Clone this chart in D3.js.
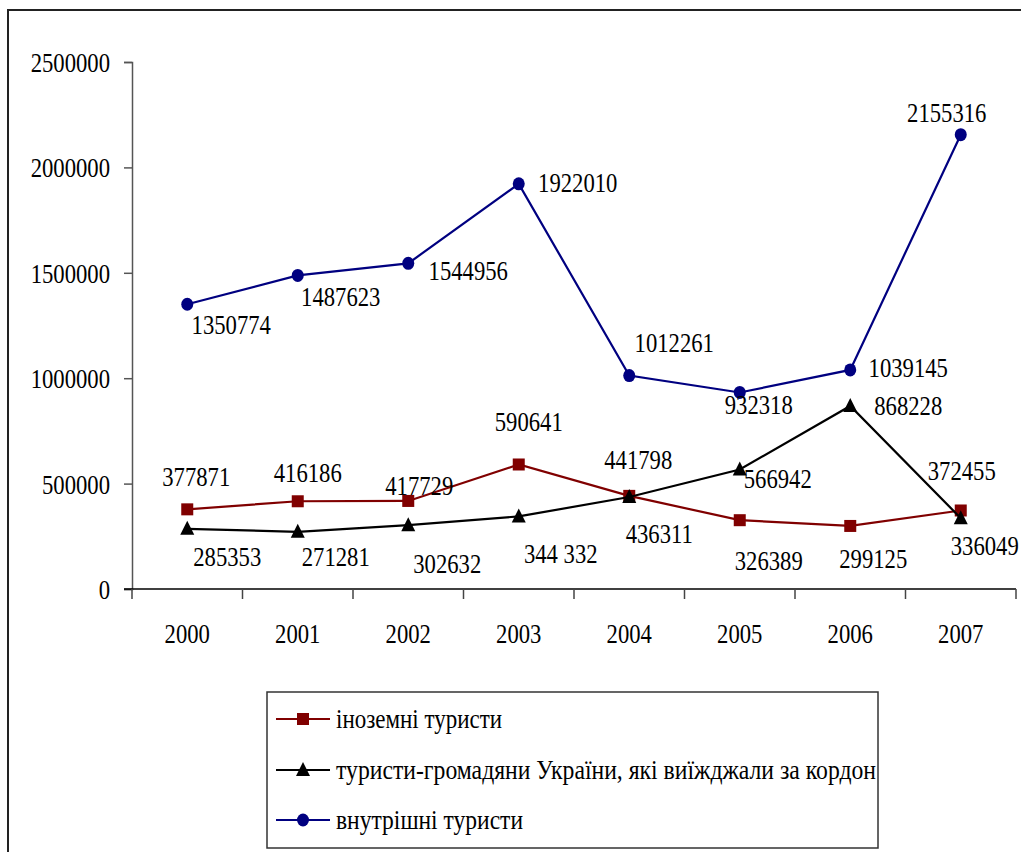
<!DOCTYPE html>
<html><head><meta charset="utf-8">
<script src="https://cdn.jsdelivr.net/npm/d3@7"></script>
<style>body{margin:0;background:#fff}svg{display:block}</style>
</head><body>
<svg id="c" width="1021" height="852"></svg>
<script>
const years = ["2000","2001","2002","2003","2004","2005","2006","2007"];
const foreignTourists = [377871, 416186, 417729, 590641, 441798, 326389, 299125, 372455];
const outboundTourists = [285353, 271281, 302632, 344332, 436311, 566942, 868228, 336049];
const domesticTourists = [1350774, 1487623, 1544956, 1922010, 1012261, 932318, 1039145, 2155316];
const foreignLabels = ["377871","416186","417729","590641","441798","326389","299125","372455"];
const outboundLabels = ["285353","271281","302632","344 332","436311","566942","868228","336049"];
const domesticLabels = ["1350774","1487623","1544956","1922010","1012261","932318","1039145","2155316"];
const yTicks = [0, 500000, 1000000, 1500000, 2000000, 2500000];
const seriesNames = ["іноземні туристи", "туристи-громадяни України, які виїжджали за кордон", "внутрішні туристи"];

// label offsets (pixels, relative to the point)
const foreignOff = [[9,-33],[10,-29],[11,-15],[10,-43],[9,-36],[29,40],[23,33],[1,-40]];
const outboundOff = [[40,28],[38,25],[39,38],[42,37],[30,37],[38,9],[58,0],[24,27]];
const domesticOff = [[44,20],[43,21],[60,7],[59,-1],[45,-33],[19,12],[58,-2],[-14,-22]];

const FONT = "'Times New Roman', 'Liberation Serif', Tinos, serif";
const FS = 27, SX = 0.84;
const svg = d3.select("#c");

svg.append("rect").attr("x",8).attr("y",10).attr("width",1030).attr("height",860)
  .attr("fill","none").attr("stroke","#222").attr("stroke-width",2);

const x = d3.scaleBand().domain(years).range([132,1016]);
const y = d3.scaleLinear().domain([0,2500000]).range([589,62]);
const cx = d => x(d) + x.bandwidth()/2;

function txt(g, s, px, py, anchor, sx){
  return g.append("text").attr("transform",`translate(${px},${py}) scale(${sx||SX},1)`)
    .attr("text-anchor",anchor||"middle").attr("dy","0.35em")
    .style("font-family",FONT).style("font-size",FS+"px").style("font-weight","normal").attr("fill","#000").text(s);
}

// y axis
const yAxis = svg.append("g").attr("transform","translate(132,0)")
  .call(d3.axisLeft(y).tickValues(yTicks).tickSize(8).tickPadding(14).tickFormat(d3.format("d")));
yAxis.select(".domain").attr("stroke","#555").attr("stroke-width",1.5);
yAxis.selectAll(".tick line").attr("stroke","#555").attr("stroke-width",1.5);
yAxis.selectAll(".tick text").each(function(){
  const t = d3.select(this); const xx = +t.attr("x");
  t.attr("x",0).attr("transform",`translate(${xx},0) scale(${SX},1)`)
   .style("font-family",FONT).style("font-size",FS+"px").attr("fill","#000").attr("dy","0.35em");
});

// x axis
const xg = svg.append("g");
xg.append("line").attr("x1",x.range()[0]-8).attr("x2",x.range()[1]).attr("y1",y(0)).attr("y2",y(0))
  .attr("stroke","#000").attr("stroke-width",1.5);
const bounds = years.map(d=>x(d)).concat([x.range()[1]]);
xg.selectAll(".bt").data(bounds).join("line").attr("class","bt")
  .attr("x1",d=>d).attr("x2",d=>d).attr("y1",y(0)).attr("y2",y(0)+10)
  .attr("stroke","#444").attr("stroke-width",1.5);
years.forEach(d=>txt(xg, d, cx(d), 634));

const line = d3.line().x((d,i)=>cx(years[i])).y(d=>y(d));

function drawSeries(vals, color, shape){
  const g = svg.append("g");
  g.append("path").datum(vals).attr("d",line).attr("fill","none").attr("stroke",color).attr("stroke-width",2.2);
  vals.forEach((v,i)=>marker(g, shape, cx(years[i]), y(v), color));
  return g;
}
function marker(g, shape, px, py, color){
  if(shape==="square") g.append("rect").attr("x",px-6).attr("y",py-6).attr("width",12).attr("height",12).attr("fill",color);
  else if(shape==="triangle") g.append("path").attr("d",`M${px},${py-8}L${px+7},${py+6}L${px-7},${py+6}Z`).attr("fill",color);
  else g.append("ellipse").attr("cx",px).attr("cy",py).attr("rx",6).attr("ry",6.5).attr("fill",color);
}

const RED="#800000", BLK="#000000", BLUE="#000080";
drawSeries(foreignTourists, RED, "square");
drawSeries(outboundTourists, BLK, "triangle");
drawSeries(domesticTourists, BLUE, "circle");

const lg = svg.append("g");
function labels(vals, labs, offs){
  vals.forEach((v,i)=>txt(lg, labs[i], cx(years[i])+offs[i][0], y(v)+offs[i][1]));
}
labels(foreignTourists, foreignLabels, foreignOff);
labels(outboundTourists, outboundLabels, outboundOff);
labels(domesticTourists, domesticLabels, domesticOff);

// legend
const leg = svg.append("g");
leg.append("rect").attr("x",267).attr("y",692).attr("width",611).attr("height",156)
  .attr("fill","#fff").attr("stroke","#333").attr("stroke-width",1.5);
const legRows = [[RED,"square",719],[BLK,"triangle",770],[BLUE,"circle",820]];
const legLen = [166, 540, 187];
legRows.forEach((r,i)=>{
  leg.append("line").attr("x1",276).attr("x2",330).attr("y1",r[2]).attr("y2",r[2]).attr("stroke",r[0]).attr("stroke-width",2.2);
  marker(leg, r[1], 303, r[2], r[0]);
  const t = txt(leg, seriesNames[i], 336, r[2], "start", 1);
  t.attr("textLength", legLen[i]).attr("lengthAdjust","spacingAndGlyphs");
});
</script>
</body></html>
